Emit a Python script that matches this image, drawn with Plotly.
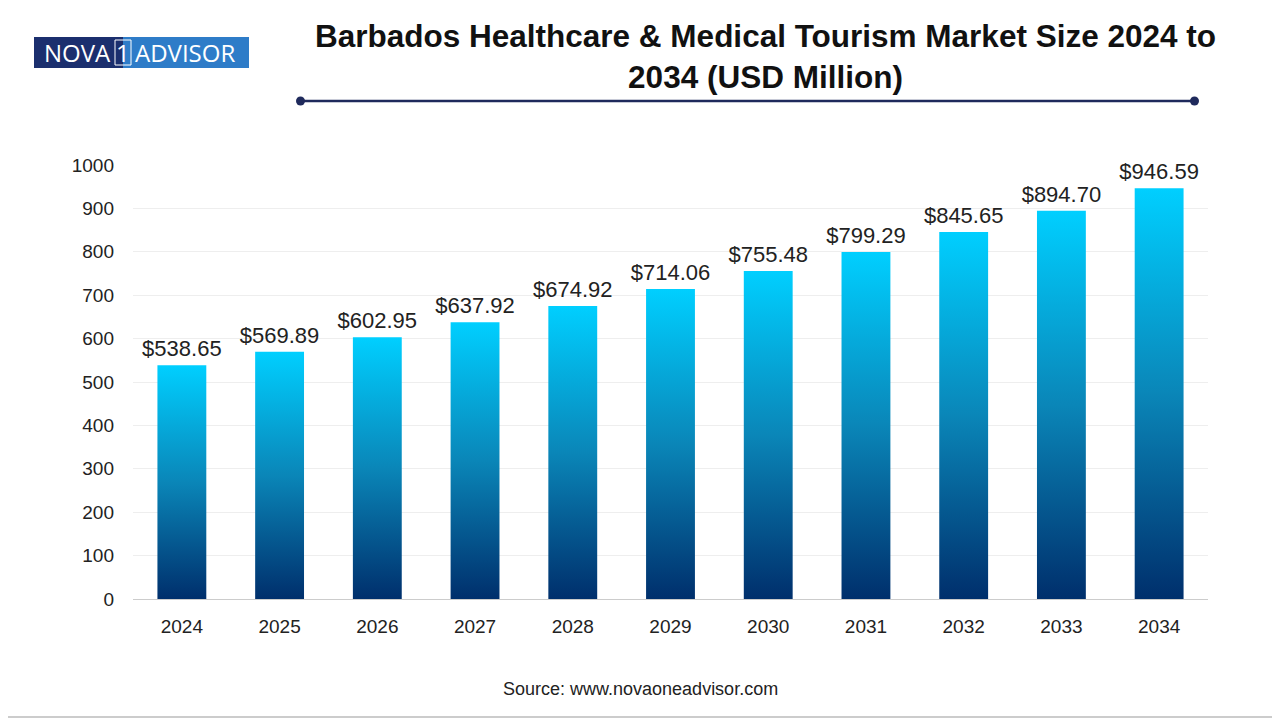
import plotly.graph_objects as go

years = ["2024","2025","2026","2027","2028","2029","2030","2031","2032","2033","2034"]
values = [538.65,569.89,602.95,637.92,674.92,714.06,755.48,799.29,845.65,894.70,946.59]
labels = ["$" + f"{v:.2f}" for v in values]

OFF = 8
L, R, T, B = 133 - OFF, 1208 - OFF, 165 - OFF, 599 - OFF
PW, PH = R - L, B - T
def px(x): return (x - OFF - L) / PW
def py(y): return (B - (y - OFF)) / PH

fig = go.Figure()
hw = 0.25
for i, v in enumerate(values):
    fig.add_trace(go.Scatter(
        x=[i-hw, i+hw, i+hw, i-hw, i-hw], y=[0, 0, v, v, 0],
        mode="lines", line=dict(width=0), fill="toself",
        fillgradient=dict(type="vertical", colorscale=[[0, "#002F6C"], [0.5, "#0A86B8"], [1, "#00CFFF"]]),
        hoverinfo="skip", showlegend=False))
fig.add_trace(go.Scatter(x=list(range(len(values))), y=[v + 8 for v in values], mode="text", text=labels,
                         textposition="top center", textfont=dict(size=22, color="#222"),
                         showlegend=False, cliponaxis=False))

navy = "#1F2A5C"
fig.update_layout(
    width=1280, height=720, plot_bgcolor="white", paper_bgcolor="white",
    margin=dict(l=L, r=1280 - R, t=T, b=720 - B),
    font=dict(family="Liberation Sans, Arial", color="#222"),
    xaxis=dict(range=[-0.5, 10.5], tickvals=list(range(11)), ticktext=years, showgrid=False,
               showline=True, linecolor="#ccc", ticks="", tickfont=dict(size=19), zeroline=False,
               ticklabelstandoff=10),
    yaxis=dict(range=[0, 1000], dtick=100, showgrid=True, gridcolor="#eee", tickfont=dict(size=19),
               zeroline=False, ticks="", showline=False, ticklabelstandoff=18),
    shapes=[
        dict(type="rect", xref="paper", yref="paper", x0=px(1), x1=px(1277), y0=py(717), y1=py(1),
             line=dict(color="#999", width=1)),
        dict(type="line", xref="paper", yref="paper", x0=px(300), x1=px(1195), y0=py(101), y1=py(101),
             line=dict(color=navy, width=2.5)),
        dict(type="circle", xref="paper", yref="paper", x0=px(296), x1=px(305), y0=py(105.5), y1=py(96.5),
             fillcolor=navy, line=dict(width=0)),
        dict(type="circle", xref="paper", yref="paper", x0=px(1190), x1=px(1199), y0=py(105.5), y1=py(96.5),
             fillcolor=navy, line=dict(width=0)),
        dict(type="rect", xref="paper", yref="paper", x0=px(34), x1=px(123), y0=py(68), y1=py(37),
             fillcolor="#1B2F6E", line=dict(width=0)),
        dict(type="rect", xref="paper", yref="paper", x0=px(123), x1=px(249), y0=py(68), y1=py(37),
             fillcolor="#2E7CC8", line=dict(width=0)),
        dict(type="rect", xref="paper", yref="paper", x0=px(115), x1=px(131), y0=py(65), y1=py(40),
             line=dict(color="white", width=1)),
    ],
    annotations=[
        dict(text="<b>Barbados Healthcare & Medical Tourism Market Size 2024 to<br>2034 (USD Million)</b>",
             xref="paper", yref="paper", x=px(766), y=py(56), xanchor="center", yanchor="middle",
             showarrow=False, font=dict(size=31.5, color="#111")),
        dict(text="NOVA", xref="paper", yref="paper", x=px(113), y=py(52.5), xanchor="right", yanchor="middle",
             showarrow=False, font=dict(size=24, color="white", family="Open Sans")),
        dict(text="1", xref="paper", yref="paper", x=px(123), y=py(52.5), xanchor="center", yanchor="middle",
             showarrow=False, font=dict(size=24, color="white", family="Open Sans")),
        dict(text="ADVISOR", xref="paper", yref="paper", x=px(133), y=py(52.5), xanchor="left", yanchor="middle",
             showarrow=False, font=dict(size=24, color="white", family="Open Sans")),
        dict(text="Source: www.novaoneadvisor.com", xref="paper", yref="paper", x=px(640), y=py(689),
             xanchor="center", yanchor="middle", showarrow=False, font=dict(size=18)),
    ],
)
fig.write_html("out.html")
